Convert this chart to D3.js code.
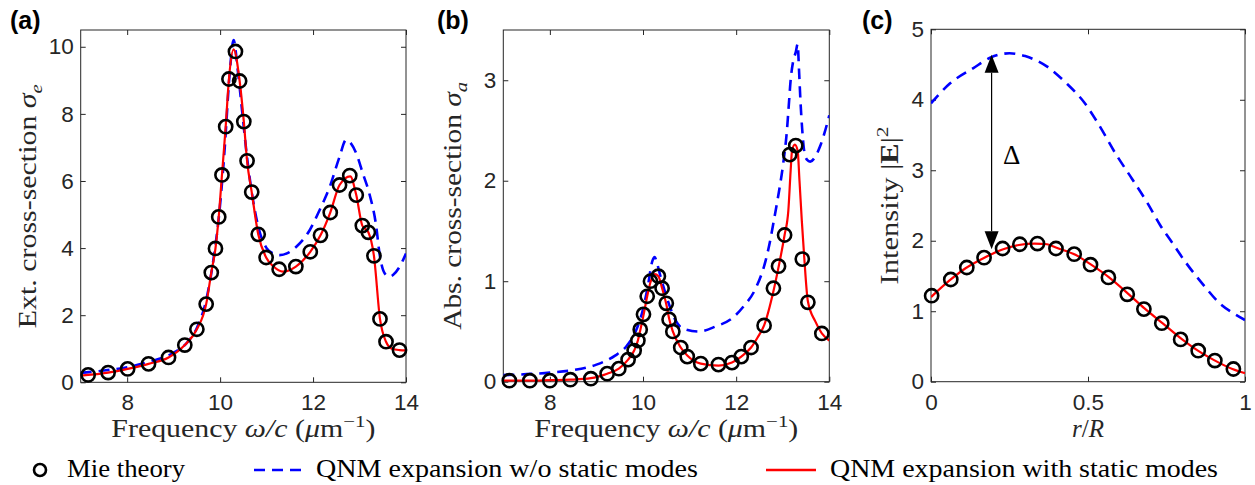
<!DOCTYPE html>
<html>
<head>
<meta charset="utf-8">
<script src="https://cdn.jsdelivr.net/npm/d3@7"></script>
<style>
    body { margin: 0; background: #fff; }
    svg { display: block; }
</style>
</head>
<body>
<div id="chart"></div>
<script>

// ---- (a) extinction cross-section ----
const mieA_x = [7.16, 7.59, 8.01, 8.46, 8.89, 9.24, 9.50, 9.70, 9.81, 9.90, 9.97, 10.04, 10.12, 10.19, 10.33, 10.42, 10.51, 10.58, 10.68, 10.82, 10.99, 11.27, 11.63, 11.94, 12.16, 12.37, 12.57, 12.79, 12.93, 13.06, 13.19, 13.31, 13.44, 13.57, 13.86];
const mieA_y = [0.22, 0.29, 0.40, 0.55, 0.74, 1.11, 1.58, 2.33, 3.27, 3.99, 4.93, 6.18, 7.62, 9.04, 9.86, 8.98, 7.77, 6.60, 5.67, 4.41, 3.72, 3.37, 3.45, 3.89, 4.38, 5.06, 5.88, 6.16, 5.58, 4.67, 4.47, 3.77, 1.89, 1.21, 0.96];

const staticA_x = [7.0, 7.16, 7.59, 8.01, 8.46, 8.89, 9.24, 9.50, 9.70, 9.81, 9.90, 9.97, 10.04, 10.12, 10.19, 10.29, 10.42, 10.51, 10.58, 10.68, 10.82, 10.99, 11.15, 11.35, 11.63, 11.94, 12.16, 12.37, 12.57, 12.80, 12.93, 13.06, 13.19, 13.31, 13.44, 13.57, 13.70, 13.86, 14.0];
const staticA_y = [0.20, 0.22, 0.29, 0.40, 0.55, 0.74, 1.11, 1.58, 2.33, 3.27, 3.99, 4.93, 6.18, 7.62, 9.04, 9.92, 8.98, 7.77, 6.60, 5.67, 4.41, 3.72, 3.45, 3.30, 3.45, 3.89, 4.38, 5.06, 5.88, 6.14, 5.58, 4.67, 4.47, 3.77, 1.89, 1.21, 1.00, 0.96, 0.95];

const noStaticA_x = [7.0, 7.5, 8.0, 8.5, 9.0, 9.3, 9.5, 9.7, 9.85, 10.0, 10.1, 10.2, 10.29, 10.38, 10.48, 10.58, 10.7, 10.86, 11.0, 11.14, 11.28, 11.45, 11.64, 11.93, 12.14, 12.36, 12.57, 12.71, 12.93, 13.07, 13.21, 13.36, 13.43, 13.54, 13.64, 13.72, 13.86, 14.0];
const noStaticA_y = [0.28, 0.35, 0.45, 0.62, 0.88, 1.20, 1.62, 2.45, 3.60, 5.30, 7.00, 9.10, 10.20, 9.30, 8.00, 6.70, 5.50, 4.44, 4.00, 3.84, 3.79, 3.85, 4.04, 4.54, 5.13, 5.83, 6.72, 7.22, 6.82, 6.23, 5.63, 4.64, 3.84, 3.25, 3.15, 3.20, 3.44, 3.84];

// ---- (b) absorption cross-section ----
const mieB_x = [7.13, 7.57, 8.0, 8.44, 8.88, 9.23, 9.48, 9.68, 9.81, 9.89, 9.94, 10.01, 10.09, 10.16, 10.33, 10.41, 10.50, 10.56, 10.64, 10.81, 10.95, 11.24, 11.62, 11.91, 12.11, 12.32, 12.60, 12.80, 12.91, 13.04, 13.15, 13.28, 13.42, 13.54, 13.84];
const mieB_y = [0.01, 0.01, 0.01, 0.02, 0.03, 0.08, 0.13, 0.22, 0.31, 0.41, 0.52, 0.67, 0.85, 1.00, 1.05, 0.93, 0.78, 0.62, 0.50, 0.34, 0.25, 0.18, 0.17, 0.19, 0.25, 0.34, 0.56, 0.93, 1.15, 1.46, 2.26, 2.35, 1.22, 0.79, 0.48];

const staticB_x = [7.0, 7.13, 7.57, 8.0, 8.44, 8.88, 9.23, 9.48, 9.68, 9.81, 9.89, 9.94, 10.01, 10.09, 10.16, 10.25, 10.33, 10.41, 10.50, 10.56, 10.64, 10.81, 10.95, 11.24, 11.62, 11.91, 12.11, 12.32, 12.46, 12.60, 12.80, 12.91, 13.04, 13.12, 13.17, 13.20, 13.26, 13.32, 13.36, 13.41, 13.46, 13.54, 13.70, 13.84, 14.0];
const staticB_y = [0.01, 0.01, 0.01, 0.015, 0.02, 0.035, 0.08, 0.13, 0.22, 0.31, 0.41, 0.51, 0.66, 0.85, 0.99, 1.07, 1.05, 0.93, 0.77, 0.63, 0.50, 0.34, 0.26, 0.18, 0.16, 0.19, 0.25, 0.34, 0.44, 0.56, 0.90, 1.14, 1.46, 1.70, 2.10, 2.30, 2.36, 2.30, 2.00, 1.60, 1.25, 0.80, 0.60, 0.48, 0.41];

const noStaticB_x = [7.0, 7.5, 8.0, 8.5, 9.0, 9.4, 9.64, 9.85, 10.0, 10.1, 10.2, 10.25, 10.3, 10.38, 10.53, 10.7, 10.85, 11.2, 11.56, 11.91, 12.16, 12.41, 12.63, 12.72, 12.8, 12.9, 13.01, 13.09, 13.13, 13.17, 13.22, 13.28, 13.32, 13.35, 13.38, 13.42, 13.46, 13.52, 13.59, 13.7, 13.8, 13.9, 14.0];
const noStaticB_y = [0.065, 0.075, 0.09, 0.115, 0.17, 0.26, 0.35, 0.51, 0.72, 0.94, 1.20, 1.24, 1.18, 1.04, 0.81, 0.61, 0.53, 0.50, 0.55, 0.63, 0.75, 0.92, 1.20, 1.38, 1.58, 1.84, 2.17, 2.50, 2.75, 3.00, 3.18, 3.28, 3.36, 3.10, 2.80, 2.50, 2.30, 2.21, 2.19, 2.24, 2.34, 2.48, 2.65];

// ---- (c) field intensity ----
const mieC_x = [0.002, 0.063, 0.114, 0.169, 0.228, 0.283, 0.339, 0.398, 0.456, 0.508, 0.565, 0.625, 0.678, 0.735, 0.795, 0.851, 0.904, 0.963];
const mieC_y = [1.22, 1.45, 1.62, 1.76, 1.89, 1.95, 1.96, 1.89, 1.81, 1.66, 1.48, 1.24, 1.03, 0.83, 0.60, 0.44, 0.30, 0.18];

const staticC_x = [0, 0.06, 0.11, 0.17, 0.23, 0.28, 0.33, 0.37, 0.40, 0.46, 0.51, 0.57, 0.63, 0.68, 0.74, 0.80, 0.85, 0.90, 0.96, 1.0];
const staticC_y = [1.20, 1.44, 1.61, 1.76, 1.88, 1.94, 1.96, 1.95, 1.90, 1.80, 1.66, 1.47, 1.24, 1.04, 0.82, 0.60, 0.44, 0.31, 0.18, 0.12];

const noStaticC_x = [0, 0.06, 0.135, 0.19, 0.25, 0.30, 0.37, 0.43, 0.49, 0.53, 0.59, 0.64, 0.69, 0.73, 0.77, 0.81, 0.87, 0.92, 0.96, 1.0];
const noStaticC_y = [3.95, 4.23, 4.45, 4.60, 4.66, 4.62, 4.47, 4.24, 3.95, 3.68, 3.22, 2.88, 2.53, 2.22, 1.96, 1.70, 1.36, 1.11, 0.98, 0.875];

// gap marker in (c): r/R position, lower and upper intensity
const gapC = [0.193, 1.88, 4.64];

// ticks
const freqTicks = [8, 10, 12, 14];
const extTicks = [0, 2, 4, 6, 8, 10];
const absTicks = [0, 1, 2, 3];
const radiusTicks = [0, 0.5, 1];
const intensityTicks = [0, 1, 2, 3, 4, 5];

const legendLabels = ["Mie theory", "QNM expansion w/o static modes", "QNM expansion with static modes"];


const SERIF = "'Liberation Serif', 'Times New Roman', serif";
const SANS = "'Liberation Sans', Arial, Helvetica, sans-serif";
const AXIS_COLOR = "#262626";

const svg = d3.select("#chart").append("svg")
    .attr("width", 1255)
    .attr("height", 485);

const zip = (xs, ys) => xs.map((x, i) => [x, ys[i]]);

// write a label made of several styled pieces (italic, bold, sub/superscript)
function richText(sel, parts, fs) {
    let shift = 0;
    parts.forEach(p => {
        let target = p.sup ? -0.42 : (p.sub ? 0.22 : 0);
        let ts = sel.append("tspan").text(p.t);
        let dy = target - shift;
        if (dy !== 0) ts.attr("dy", (dy * fs).toFixed(1));
        shift = target;
        if (p.i) ts.attr("font-style", "italic");
        if (p.b) ts.attr("font-weight", "bold");
        if (p.sup || p.sub) ts.attr("font-size", fs * 0.7);
    });
}


class PanelVis {

    constructor(opts) {
        this.opts = opts;
        this.initVis();
    }

    initVis() {
        let vis = this;
        let o = vis.opts;

        vis.x = d3.scaleLinear().domain(o.xDomain).range([o.left, o.right]);
        vis.y = d3.scaleLinear().domain(o.yDomain).range([o.bottom, o.top]);

        vis.g = svg.append("g").attr("class", "panel");

        // clip region for the curves
        vis.g.append("clipPath")
            .attr("id", "clip-" + o.id)
            .append("rect")
            .attr("x", o.left)
            .attr("y", o.top)
            .attr("width", o.right - o.left)
            .attr("height", o.bottom - o.top);

        // axes, ticks pointing inwards like matlab
        let tickLen = 5;
        let bottomAxis = d3.axisBottom(vis.x).tickValues(o.xTicks).tickSizeInner(-tickLen).tickSizeOuter(0).tickPadding(12).tickFormat(d3.format("~g"));
        let topAxis = d3.axisTop(vis.x).tickValues(o.xTicks).tickSizeInner(-tickLen).tickSizeOuter(0).tickFormat("");
        let leftAxis = d3.axisLeft(vis.y).tickValues(o.yTicks).tickSizeInner(-tickLen).tickSizeOuter(0).tickPadding(7).tickFormat(d3.format("~g"));
        let rightAxis = d3.axisRight(vis.y).tickValues(o.yTicks).tickSizeInner(-tickLen).tickSizeOuter(0).tickFormat("");

        vis.g.append("g").attr("transform", `translate(0, ${o.bottom})`).call(bottomAxis);
        vis.g.append("g").attr("transform", `translate(0, ${o.top})`).call(topAxis);
        vis.g.append("g").attr("transform", `translate(${o.left}, 0)`).call(leftAxis);
        vis.g.append("g").attr("transform", `translate(${o.right}, 0)`).call(rightAxis);

        vis.g.selectAll(".domain").remove();
        vis.g.selectAll(".tick line").attr("stroke", AXIS_COLOR).attr("stroke-width", 1);
        vis.g.selectAll(".tick text")
            .attr("fill", AXIS_COLOR)
            .attr("font-family", SANS)
            .attr("font-size", 22.5);

        vis.g.append("rect")
            .attr("x", o.left)
            .attr("y", o.top)
            .attr("width", o.right - o.left)
            .attr("height", o.bottom - o.top)
            .attr("fill", "none")
            .attr("stroke", AXIS_COLOR)
            .attr("stroke-width", 1);

        vis.line = d3.line()
            .x(d => vis.x(d[0]))
            .y(d => vis.y(d[1]))
            .curve(d3.curveMonotoneX);

        // blue dashed: without static modes
        vis.g.append("path")
            .datum(zip(o.blueX, o.blueY))
            .attr("clip-path", `url(#clip-${o.id})`)
            .attr("d", vis.line)
            .attr("fill", "none")
            .attr("stroke", "#0000ff")
            .attr("stroke-width", 2.6)
            .attr("stroke-dasharray", "11,7");

        // red solid: with static modes
        vis.g.append("path")
            .datum(zip(o.redX, o.redY))
            .attr("clip-path", `url(#clip-${o.id})`)
            .attr("d", vis.line)
            .attr("fill", "none")
            .attr("stroke", "#ff0000")
            .attr("stroke-width", 2.2);

        // Mie circles
        vis.g.selectAll(".mie")
            .data(zip(o.mieX, o.mieY))
            .enter()
            .append("circle")
            .attr("class", "mie")
            .attr("cx", d => vis.x(d[0]))
            .attr("cy", d => vis.y(d[1]))
            .attr("r", 6.6)
            .attr("fill", "none")
            .attr("stroke", "#000")
            .attr("stroke-width", 2.6);

        // axis labels
        let xl = vis.g.append("text")
            .attr("x", (o.left + o.right) / 2)
            .attr("y", 437)
            .attr("text-anchor", "middle")
            .attr("font-family", SERIF)
            .attr("font-size", 25)
            .attr("fill", AXIS_COLOR);
        richText(xl, o.xLabel, 25);
        if (o.xLabelLen) xl.attr("textLength", o.xLabelLen).attr("lengthAdjust", "spacingAndGlyphs");

        let yl = vis.g.append("text")
            .attr("transform", `translate(${o.yLabelX}, ${(o.top + o.bottom) / 2}) rotate(-90)`)
            .attr("text-anchor", "middle")
            .attr("font-family", SERIF)
            .attr("font-size", 25)
            .attr("fill", AXIS_COLOR);
        richText(yl, o.yLabel, 25);
        if (o.yLabelLen) yl.attr("textLength", o.yLabelLen).attr("lengthAdjust", "spacingAndGlyphs");

        // panel letter
        vis.g.append("text")
            .attr("x", o.letterX)
            .attr("y", 29)
            .attr("font-family", SANS)
            .attr("font-weight", "bold")
            .attr("font-size", 25)
            .attr("fill", "#000")
            .text(o.letter);
    }
}

let freqLabel = [
    {t: "Frequency "}, {t: "ω/c", i: true}, {t: " ("}, {t: "μ", i: true}, {t: "m"}, {t: "−1", sup: true}, {t: ")"}
];

let panelA = new PanelVis({
    id: "a", letter: "(a)", letterX: 10,
    left: 80.7, right: 406, top: 30, bottom: 382.3,
    xDomain: [7, 14], yDomain: [0, 10.5],
    xTicks: freqTicks, yTicks: extTicks,
    mieX: mieA_x, mieY: mieA_y,
    redX: staticA_x, redY: staticA_y,
    blueX: noStaticA_x, blueY: noStaticA_y,
    xLabel: freqLabel, xLabelLen: 264,
    yLabel: [{t: "Ext.  cross-section "}, {t: "σ", i: true}, {t: "e", i: true, sub: true}],
    yLabelX: 36, yLabelLen: 244
});

let panelB = new PanelVis({
    id: "b", letter: "(b)", letterX: 437,
    left: 503.3, right: 829.3, top: 30, bottom: 381.7,
    xDomain: [7, 14], yDomain: [0, 3.5],
    xTicks: freqTicks, yTicks: absTicks,
    mieX: mieB_x, mieY: mieB_y,
    redX: staticB_x, redY: staticB_y,
    blueX: noStaticB_x, blueY: noStaticB_y,
    xLabel: freqLabel, xLabelLen: 264,
    yLabel: [{t: "Abs.  cross-section "}, {t: "σ", i: true}, {t: "a", i: true, sub: true}],
    yLabelX: 461, yLabelLen: 248
});

let panelC = new PanelVis({
    id: "c", letter: "(c)", letterX: 862,
    left: 931, right: 1245, top: 29.3, bottom: 381.7,
    xDomain: [0, 1], yDomain: [0, 5],
    xTicks: radiusTicks, yTicks: intensityTicks,
    mieX: mieC_x, mieY: mieC_y,
    redX: staticC_x, redY: staticC_y,
    blueX: noStaticC_x, blueY: noStaticC_y,
    xLabel: [{t: "r", i: true}, {t: "/"}, {t: "R", i: true}],
    yLabel: [{t: "Intensity |"}, {t: "E", b: true}, {t: "|"}, {t: "2", sup: true}],
    yLabelX: 898, yLabelLen: 158
});

// double arrow marking the gap between the two expansions
{
    let vis = panelC;
    let ax = vis.x(gapC[0]);
    let yLow = vis.y(gapC[1]);
    let yHigh = vis.y(gapC[2]);
    let headH = 18, headW = 7;

    vis.g.append("line")
        .attr("x1", ax).attr("x2", ax)
        .attr("y1", yHigh + headH).attr("y2", yLow - headH)
        .attr("stroke", "#000")
        .attr("stroke-width", 1.2);

    vis.g.append("path")
        .attr("d", `M${ax},${yHigh} L${ax - headW},${yHigh + headH} L${ax + headW},${yHigh + headH} Z`)
        .attr("fill", "#000");

    vis.g.append("path")
        .attr("d", `M${ax},${yLow} L${ax - headW},${yLow - headH} L${ax + headW},${yLow - headH} Z`)
        .attr("fill", "#000");

    vis.g.append("text")
        .attr("x", vis.x(0.257))
        .attr("y", vis.y(3.22) + 9)
        .attr("text-anchor", "middle")
        .attr("font-family", SERIF)
        .attr("font-size", 27)
        .attr("fill", "#000")
        .text("Δ");
}

// legend
let legend = svg.append("g").attr("class", "legend");
let legY = 470;

legend.append("circle")
    .attr("cx", 40).attr("cy", legY)
    .attr("r", 6)
    .attr("fill", "none")
    .attr("stroke", "#000")
    .attr("stroke-width", 2.6);

legend.append("line")
    .attr("x1", 254).attr("x2", 304)
    .attr("y1", legY).attr("y2", legY)
    .attr("stroke", "#0000ff")
    .attr("stroke-width", 2.6)
    .attr("stroke-dasharray", "11,7");

legend.append("line")
    .attr("x1", 766).attr("x2", 816)
    .attr("y1", legY).attr("y2", legY)
    .attr("stroke", "#ff0000")
    .attr("stroke-width", 2.6);

let legendPos = [[67, 118], [316, 382], [830, 388]];
legendLabels.forEach((label, i) => {
    legend.append("text")
        .attr("x", legendPos[i][0])
        .attr("y", legY + 6.5)
        .attr("font-family", SERIF)
        .attr("font-size", 25)
        .attr("fill", "#000")
        .attr("textLength", legendPos[i][1])
        .attr("lengthAdjust", "spacingAndGlyphs")
        .text(label);
});

</script>
</body>
</html>
